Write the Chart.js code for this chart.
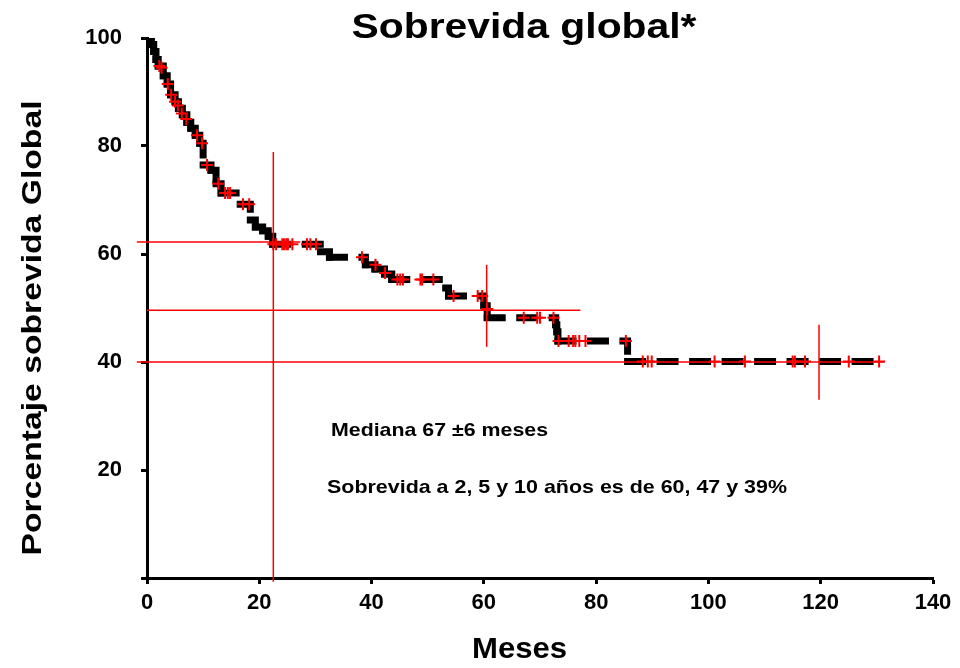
<!DOCTYPE html>
<html>
<head>
<meta charset="utf-8">
<script src="https://cdn.jsdelivr.net/npm/chart.js@4/dist/chart.umd.min.js"></script>
<style>
html,body{margin:0;padding:0;background:#fff;}
#wrap{position:relative;width:960px;height:668px;}
</style>
</head>
<body>
<div id="wrap"><canvas id="c" width="960" height="668"></canvas></div>
<script>
// ---- data ----
const kmT = [0, 0.4, 0.8, 1.2, 1.6, 2.0, 2.9, 3.6, 4.2, 5.0, 5.6, 6.3, 7.1, 7.8, 8.6, 9.4, 10.0, 11.4, 12.3, 13.2, 16.6, 18.4, 19.3, 20.6, 21.6, 22.4, 30.9, 32.5, 38.9, 40.6, 42.3, 43.6, 53.2, 53.7, 60.0, 60.6, 72.8, 73.0, 73.2, 85.6, 130.4];
const kmS = [100, 99.5, 98.8, 97.5, 96, 94.8, 93, 91.5, 89.5, 88.2, 87, 85.8, 84.4, 83.3, 82, 80.5, 76.5, 75.5, 73, 71.3, 69.2, 66.3, 65, 64.3, 63.3, 61.8, 60.4, 59.4, 58, 57.2, 56.3, 55.3, 53.7, 52.2, 50.4, 48.2, 46.9, 45.6, 43.9, 40.1, 40.1];

const censT = [2.2, 2.6, 3.7, 4.3, 5.0, 5.5, 6.2, 7.0, 8.9, 9.8, 10.7, 12.7, 13.9, 14.4, 14.8, 17.1, 18.2, 22.5, 23.0, 24.1, 24.4, 24.8, 25.1, 25.9, 28.5, 29.1, 30.1, 38.3, 40.7, 42.4, 44.6, 45.1, 45.6, 48.7, 49.0, 51.0, 54.6, 58.9, 59.7, 60.6, 67.1, 69.5, 70.0, 72.4, 73.3, 75.1, 75.9, 76.3, 77.0, 78.1, 85.3, 88.3, 89.2, 89.9, 101.1, 106.5, 115.0, 115.4, 117.2, 125.0, 130.4];
const censS = [94.8, 94.5, 91.5, 89.5, 88.2, 87.5, 86, 85, 82, 80.5, 76.5, 73, 71.3, 71.3, 71.3, 69.2, 69.2, 61.8, 61.8, 61.8, 61.8, 61.8, 61.8, 61.8, 61.8, 61.8, 61.8, 59.4, 58, 56.5, 55.3, 55.3, 55.3, 55.3, 55.3, 55.3, 52.2, 52.2, 52.2, 49.8, 48.2, 48.2, 48.2, 48.2, 43.9, 43.9, 43.9, 43.9, 43.9, 43.9, 43.9, 40.1, 40.1, 40.1, 40.1, 40.1, 40.1, 40.1, 40.1, 40.1, 40.1];

// reference lines (horizontal: y, from x0 to x1; vertical: x, from y0 to y1)
const refHy  = [62.2, 49.6, 40.0];
const refHx0 = [-1.8, 0, -1.8];
const refHx1 = [27.3, 77.2, 131.3];
const refVx  = [22.5, 60.5, 119.7];
const refVy0 = [-0.7, 42.8, 33.0];
const refVy1 = [78.9, 58.0, 46.9];

const xTicks = [0, 20, 40, 60, 80, 100, 120, 140];
const yTicks = [0, 20, 40, 60, 80, 100];

const titleText = 'Sobrevida global*';
const xTitle = 'Meses';
const yTitle = 'Porcentaje sobrevida Global';
const note1 = 'Mediana 67 \u00B16 meses';
const note2 = 'Sobrevida a 2, 5 y 10 a\u00F1os es de 60, 47 y 39%';

// ---- build ----
const FONT = "'Liberation Sans', Arial, Helvetica, sans-serif";
const RED = '#ff0000';

const datasets = [];
datasets.push({
  label: 'KM',
  data: kmT.map((t, i) => ({x: t, y: kmS[i]})),
  stepped: 'before',
  borderColor: '#000',
  borderWidth: 7,
  borderDash: [15, 17.5],
  borderCapStyle: 'square',
  borderJoinStyle: 'miter',
  pointRadius: 0,
  fill: false,
  order: 2,
  // each step restarts the dash pattern (as in the original spreadsheet chart)
  segment: {borderDashOffset: c => c.p0DataIndex * 1e-6}
});
refHy.forEach((y, i) => datasets.push({
  label: 'h' + i,
  data: [{x: refHx0[i], y: y}, {x: refHx1[i], y: y}],
  borderColor: RED, borderWidth: 1.5, pointRadius: 0, fill: false, clip: false, order: 1
}));
refVx.forEach((x, i) => datasets.push({
  label: 'v' + i,
  data: [{x: x, y: refVy0[i]}, {x: x, y: refVy1[i]}],
  borderColor: RED, borderWidth: 1.5, pointRadius: 0, fill: false, clip: false, order: 1
}));
datasets.push({
  label: 'censored',
  data: censT.map((t, i) => ({x: t, y: censS[i]})),
  showLine: false,
  pointStyle: 'cross',
  pointRadius: 6,
  pointBorderWidth: 2,
  pointBorderColor: RED,
  pointBackgroundColor: RED,
  borderColor: RED,
  clip: false,
  order: 0
});

function fitText(ctx, text, cx, cy, font, width, rot) {
  ctx.save();
  ctx.translate(cx, cy);
  if (rot) ctx.rotate(rot);
  ctx.font = font;
  const w = ctx.measureText(text).width;
  ctx.scale(width / w, 1);
  ctx.textAlign = 'center';
  ctx.textBaseline = 'alphabetic';
  ctx.fillStyle = '#000';
  ctx.fillText(text, 0, 0);
  ctx.restore();
}

const textPlugin = {
  id: 'texts',
  afterDraw(chart) {
    const ctx = chart.ctx;
    fitText(ctx, titleText, 524, 38, 'bold 35px ' + FONT, 345);
    fitText(ctx, xTitle, 519.5, 658, 'bold 30px ' + FONT, 95);
    fitText(ctx, yTitle, 41, 328, 'bold 28px ' + FONT, 455, -Math.PI / 2);
    fitText(ctx, note1, 439.5, 436, 'bold 19px ' + FONT, 217);
    fitText(ctx, note2, 557, 493, 'bold 19px ' + FONT, 460);
  }
};

new Chart(document.getElementById('c'), {
  type: 'line',
  data: {datasets},
  options: {
    responsive: false,
    animation: false,
    layout: {padding: {left: 0, top: 38, right: 27, bottom: 0}},
    plugins: {legend: {display: false}, tooltip: {enabled: false}, title: {display: false}},
    scales: {
      x: {
        type: 'linear', min: 0, max: 140,
        afterFit(s) { s.height = 90; },
        afterBuildTicks(s) { s.ticks = xTicks.map(v => ({value: v})); },
        border: {display: true, color: '#000', width: 3},
        grid: {display: true, drawOnChartArea: false, drawTicks: true, tickLength: 6, tickWidth: 3, tickColor: '#000'},
        ticks: {color: '#000', padding: 6, maxRotation: 0, font: {family: FONT, size: 22, weight: 'bold'}}
      },
      y: {
        type: 'linear', min: 0, max: 100,
        afterFit(s) { s.width = 147; },
        afterBuildTicks(s) { s.ticks = yTicks.map(v => ({value: v})); },
        border: {display: true, color: '#000', width: 3},
        grid: {display: true, drawOnChartArea: false, drawTicks: true, tickLength: 6, tickWidth: 3, tickColor: '#000'},
        ticks: {color: '#000', padding: 19, font: {family: FONT, size: 22, weight: 'bold'},
          callback: v => (v === 0 ? '' : String(v))}
      }
    }
  },
  plugins: [textPlugin]
});
</script>
</body>
</html>
